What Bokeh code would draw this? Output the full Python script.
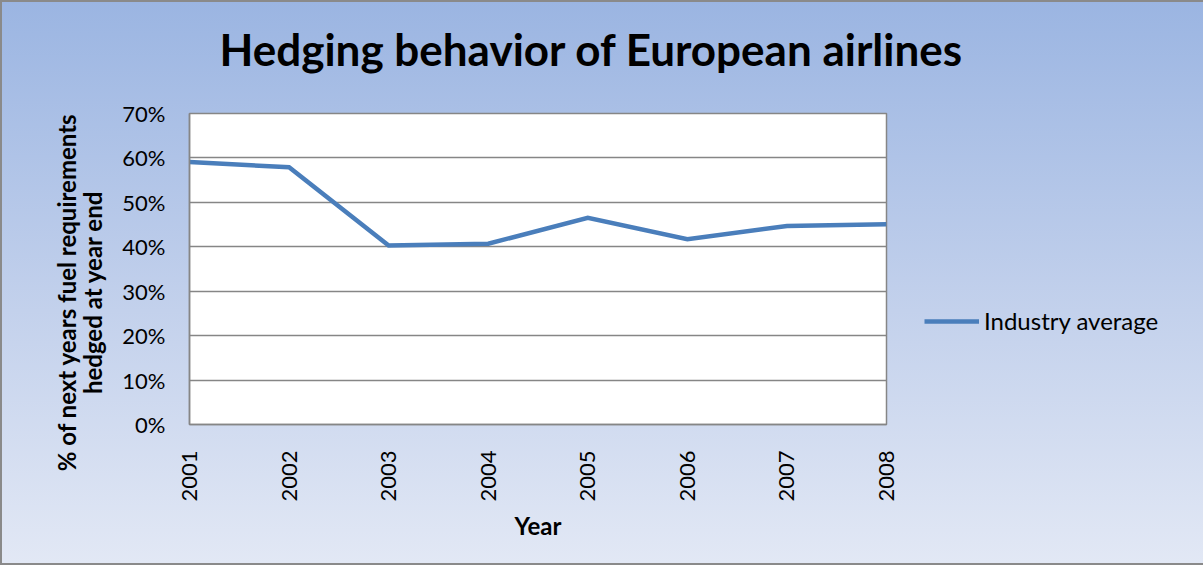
from bokeh.plotting import figure
from bokeh.models import (Range1d, FixedTicker, NumeralTickFormatter, Legend,
                          LegendItem, ColumnDataSource, Title)
from bokeh.embed import file_html
from bokeh.resources import INLINE
import math

# ---- data ----
years = ["2001", "2002", "2003", "2004", "2005", "2006", "2007", "2008"]
industry_average = [0.591, 0.579, 0.403, 0.407, 0.465, 0.417, 0.447, 0.451]
y_ticks = [0.0, 0.1, 0.2, 0.3, 0.4, 0.5, 0.6, 0.7]
title_text = "Hedging behavior of European airlines"
series_name = "Industry average"
y_label_lines = ["% of next years fuel requirements", "hedged at year end"]
x_label = "Year"

FONT = "Lato"
GRID = "#868686"
LINE = "#4a7ebb"

x_idx = list(range(len(years)))
src = ColumnDataSource(dict(x=x_idx, y=industry_average))

p = figure(width=1187, height=561, frame_width=697, frame_height=311,
           output_backend="svg", toolbar_location=None,
           x_range=Range1d(0, len(years) - 1), y_range=Range1d(0, 0.7),
           min_border_left=187, min_border_right=303,
           min_border_top=111, min_border_bottom=139)

p.border_fill_color = None
p.background_fill_color = "white"
p.outline_line_color = GRID
p.outline_line_width = 1.5
p.styles = {
    "background": "linear-gradient(to bottom, #9bb5e2 0%, #c3d1ec 55%, #e2e8f5 100%)",
    "border": "2px solid #8a8a8a",
    "box-sizing": "border-box",
}

# title: spacer (next to frame) then the real title
p.add_layout(Title(text=" ", text_font_size="1px", standoff=31), "above")
p.add_layout(Title(text=title_text, align="left", offset=30, standoff=10,
                   text_font=FONT, text_font_style="bold",
                   text_font_size="44px", text_color="black"), "above")

# axes
p.xaxis.ticker = FixedTicker(ticks=x_idx)
p.xaxis.major_label_overrides = {i: y for i, y in enumerate(years)}
p.xaxis.major_label_orientation = math.pi / 2
p.yaxis.ticker = FixedTicker(ticks=y_ticks)
p.yaxis.formatter = NumeralTickFormatter(format="0%")

for ax in (p.xaxis, p.yaxis):
    ax.axis_line_color = GRID
    ax.axis_line_width = 1.5
    ax.major_tick_line_color = None
    ax.minor_tick_line_color = None
    ax.major_tick_out = 0
    ax.major_tick_in = 0
    ax.major_label_text_font = FONT
    ax.major_label_text_font_size = "22px"
    ax.major_label_text_color = "black"
    ax.axis_label_text_font = FONT
    ax.axis_label_text_font_style = "bold"
    ax.axis_label_text_font_size = "24px"
    ax.axis_label_text_color = "black"

p.xaxis.major_label_standoff = 26
p.yaxis.major_label_standoff = 24
p.xaxis.axis_label = x_label
p.xaxis.axis_label_standoff = 6
# trailing no-break spaces shift the visible label down, as in the original
pad = "\u00a0" * 8
p.yaxis.axis_label = "\n".join(line + pad for line in y_label_lines)
p.yaxis.axis_label_standoff = 12
p.yaxis.axis_label_text_line_height = 0.9

p.xgrid.grid_line_color = None
p.ygrid.ticker = FixedTicker(ticks=y_ticks)
p.ygrid.grid_line_color = GRID
p.ygrid.grid_line_width = 1.5

r = p.line("x", "y", source=src, line_color=LINE, line_width=4.5,
           line_join="miter")

legend = Legend(items=[LegendItem(label=series_name, renderers=[r])],
                location=(38, 89), orientation="vertical",
                background_fill_alpha=0, border_line_color=None,
                padding=0, margin=0, glyph_width=55, glyph_height=20,
                label_height=20, label_standoff=5,
                label_text_font=FONT, label_text_font_size="24px",
                label_text_color="black")
p.add_layout(legend, "right")

open("out.html", "w").write(file_html(p, INLINE))
